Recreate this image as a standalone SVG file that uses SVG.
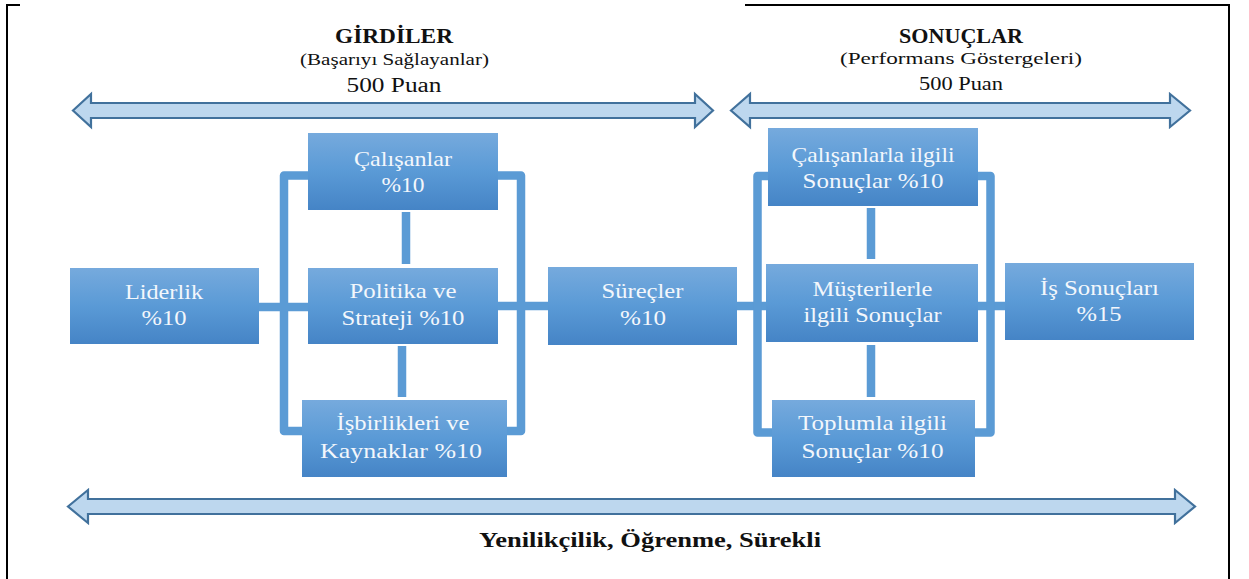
<svg xmlns="http://www.w3.org/2000/svg" width="1249" height="579" viewBox="0 0 1249 579">
<style>
.frame{stroke:#000;stroke-width:2;fill:none}
.arrow{fill:#bdd7ee;stroke:#41719c;stroke-width:2.2;stroke-linejoin:miter}
.box{fill:url(#boxGrad)}
.conn{stroke:#5b9bd5;stroke-width:8.5;fill:none;stroke-linejoin:round}
.bt{font-size:21px;fill:#f3f7fc;text-anchor:middle}
.hb{font-weight:bold;fill:#111;text-anchor:middle}
.hr{fill:#111;text-anchor:middle}
</style>
<defs>
<linearGradient id="boxGrad" x1="0" y1="0" x2="0" y2="1">
<stop offset="0" stop-color="#76aadd"/>
<stop offset="0.5" stop-color="#5a9ad6"/>
<stop offset="1" stop-color="#4584c6"/>
</linearGradient>
</defs>
<rect width="1249" height="579" fill="#fff"/>
<g id="frame">
<path class="frame" d="M7,579 V5 H20"/>
<path class="frame" d="M745,5 H1229 V579"/>
</g>
<g id="headers" font-family="'Liberation Serif', 'DejaVu Serif', serif">
<text class="hb" x="394" y="43" font-size="20" textLength="118" lengthAdjust="spacingAndGlyphs">GİRDİLER</text>
<text class="hr" x="394.5" y="65" font-size="17" textLength="189" lengthAdjust="spacingAndGlyphs">(Başarıyı Sağlayanlar)</text>
<text class="hr" x="394" y="92" font-size="20" textLength="95" lengthAdjust="spacingAndGlyphs">500 Puan</text>
<text class="hb" x="961" y="43" font-size="20" textLength="124" lengthAdjust="spacingAndGlyphs">SONUÇLAR</text>
<text class="hr" x="961" y="64" font-size="17" textLength="242" lengthAdjust="spacingAndGlyphs">(Performans Göstergeleri)</text>
<text class="hr" x="961" y="90" font-size="19" textLength="84" lengthAdjust="spacingAndGlyphs">500 Puan</text>
</g>
<g id="arrows">
<path id="arrow-girdiler" class="arrow" d="M73,110.5 L91,94 V103 H695 V94 L713,110.5 L695,127 V118 H91 V127 Z"/>
<path id="arrow-sonuclar" class="arrow" d="M731,110.5 L750,94 V103 H1170 V94 L1190,110.5 L1170,127 V118 H750 V127 Z"/>
<path id="arrow-bottom" class="arrow" d="M68,506.5 L88,490 V499 H1175 V490 L1195,506.5 L1175,523 V514 H88 V523 Z"/>
</g>
<g id="connectors">
<path class="conn" d="M259,307 H308"/>
<path class="conn" d="M498,306 H548"/>
<path class="conn" d="M737,306 H766"/>
<path class="conn" d="M978,306 H1005"/>
<path class="conn" d="M406,212 V264"/>
<path class="conn" d="M402,346 V397"/>
<path class="conn" d="M871,208 V259"/>
<path class="conn" d="M871,345 V397"/>
<path class="conn" d="M308,175.5 H284 V431 H302"/>
<path class="conn" d="M498,175.5 H521 V431 H507"/>
<path class="conn" d="M768,176 H757.5 V432.5 H772"/>
<path class="conn" d="M978,176 H990.5 V432.5 H975"/>
</g>
<g id="nodes" font-family="'Liberation Serif', 'DejaVu Serif', serif">
<g id="node-liderlik">
<rect class="box" x="70" y="268" width="189" height="76"/>
<text class="bt" x="164" y="299" textLength="78" lengthAdjust="spacingAndGlyphs">Liderlik</text>
<text class="bt" x="164" y="325" textLength="45" lengthAdjust="spacingAndGlyphs">%10</text>
</g>
<g id="node-calisanlar">
<rect class="box" x="308" y="133" width="190" height="77"/>
<text class="bt" x="403" y="166" textLength="98" lengthAdjust="spacingAndGlyphs">Çalışanlar</text>
<text class="bt" x="403" y="192" textLength="43" lengthAdjust="spacingAndGlyphs">%10</text>
</g>
<g id="node-politika">
<rect class="box" x="308" y="268" width="190" height="76"/>
<text class="bt" x="403" y="298" textLength="107" lengthAdjust="spacingAndGlyphs">Politika ve</text>
<text class="bt" x="403" y="325" textLength="123" lengthAdjust="spacingAndGlyphs">Strateji %10</text>
</g>
<g id="node-isbirlikleri">
<rect class="box" x="302" y="400" width="205" height="77"/>
<text class="bt" x="403" y="430" textLength="133" lengthAdjust="spacingAndGlyphs">İşbirlikleri ve</text>
<text class="bt" x="401" y="458" textLength="162" lengthAdjust="spacingAndGlyphs">Kaynaklar %10</text>
</g>
<g id="node-surecler">
<rect class="box" x="548" y="267" width="189" height="78"/>
<text class="bt" x="642.5" y="298" textLength="82" lengthAdjust="spacingAndGlyphs">Süreçler</text>
<text class="bt" x="643" y="325" textLength="46" lengthAdjust="spacingAndGlyphs">%10</text>
</g>
<g id="node-calisanlarla">
<rect class="box" x="768" y="128" width="210" height="78"/>
<text class="bt" x="873" y="162" textLength="163" lengthAdjust="spacingAndGlyphs">Çalışanlarla ilgili</text>
<text class="bt" x="873" y="188" textLength="141" lengthAdjust="spacingAndGlyphs">Sonuçlar %10</text>
</g>
<g id="node-musterilerle">
<rect class="box" x="766" y="264" width="212" height="78"/>
<text class="bt" x="872.5" y="296" textLength="120" lengthAdjust="spacingAndGlyphs">Müşterilerle</text>
<text class="bt" x="872.5" y="322" textLength="138" lengthAdjust="spacingAndGlyphs">ilgili Sonuçlar</text>
</g>
<g id="node-toplumla">
<rect class="box" x="772" y="400" width="203" height="77"/>
<text class="bt" x="872.5" y="430" textLength="149" lengthAdjust="spacingAndGlyphs">Toplumla ilgili</text>
<text class="bt" x="872.5" y="458" textLength="142" lengthAdjust="spacingAndGlyphs">Sonuçlar %10</text>
</g>
<g id="node-is-sonuclari">
<rect class="box" x="1005" y="263" width="189" height="77"/>
<text class="bt" x="1099.5" y="295" textLength="119" lengthAdjust="spacingAndGlyphs">İş Sonuçları</text>
<text class="bt" x="1099" y="321" textLength="45" lengthAdjust="spacingAndGlyphs">%15</text>
</g>
</g>
<g id="footer" font-family="'Liberation Serif', 'DejaVu Serif', serif">
<text class="hb" x="650" y="547" font-size="21" textLength="342" lengthAdjust="spacingAndGlyphs">Yenilikçilik, Öğrenme, Sürekli</text>
</g>
</svg>
